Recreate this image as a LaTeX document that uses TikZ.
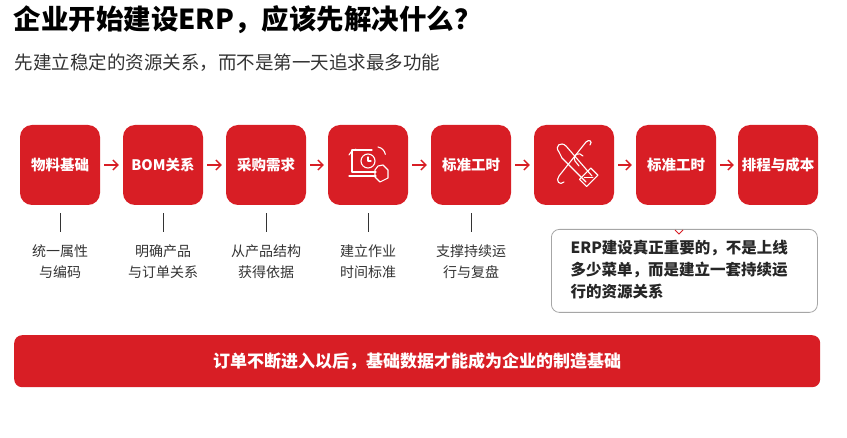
\documentclass[tikz,border=0pt]{standalone}
\usepackage{fontspec}
\setmainfont{Noto Sans CJK SC}
\usetikzlibrary{arrows.meta}
\definecolor{rd}{HTML}{D81E25}
\definecolor{tx}{HTML}{333333}
\begin{document}
\begin{tikzpicture}[x=1pt,y=-1pt,
  box/.style={fill=rd,rounded corners=12pt,minimum width=80pt,minimum height=80pt,text=white,font=\fontsize{14.5}{17}\selectfont\bfseries,inner sep=0pt},
  arr/.style={draw=rd,line width=1.4pt,-{Straight Barb[length=5pt,width=10pt]},shorten <=4pt,shorten >=4pt},
  tick/.style={draw=tx,line width=0.8pt},
  lab/.style={font=\fontsize{14}{21}\selectfont,text=tx,align=center},
  ic/.style={draw=white,line width=1.1pt,line cap=round,line join=round}]
\useasboundingbox (0,0) rectangle (847,438);
\node[anchor=west,font=\fontsize{27.5}{32}\selectfont\bfseries] (t) at (10,20) {企业开始建设ERP，应该先解决什么？};
\node[anchor=west,font=\fontsize{18.5}{22}\selectfont,text=tx] (st) at (11,63) {先建立稳定的资源关系，而不是第一天追求最多功能};
\node[box] (b1) at (60,165) {物料基础};
\node[box] (b2) at (163,165) {BOM关系};
\node[box] (b3) at (266,165) {采购需求};
\node[box] (b4) at (368,165) {};
\node[box] (b5) at (471,165) {标准工时};
\node[box] (b6) at (574,165) {};
\node[box] (b7) at (676,165) {标准工时};
\node[box] (b8) at (778,165) {排程与成本};
\foreach \a/\b in {b1/b2,b2/b3,b3/b4,b4/b5,b5/b6,b6/b7,b7/b8} \draw[arr] (\a) -- (\b);
% icon 4: laptop with clock and hand
\draw[ic] (352,150) -- (352,172) -- (376,172);
\draw[ic] (349,176) -- (376,176);
\draw[ic] (368,161) circle (7pt);
\draw[ic] (368,157) -- (368,161) -- (371,161);
\draw[ic] (375,170) -- (378,166) -- (383,165) -- (388,170) -- (388,178) -- (380,182) -- (375,177) -- cycle;
\draw[ic] (349,155) arc (200:260:9);
\draw[ic] (378,147) arc (-80:-10:9);
\draw[ic] (352,150) -- (372,150);
% icon 6: broken chain and wrench
\draw[ic] (559,152) .. controls (554,146) and (561,141) .. (566,146) -- (592,176);
\draw[ic] (562,158) -- (586,182);
\draw[ic] (559,152) -- (562,158);
\draw[ic] (590,145) .. controls (593,141) and (589,139) .. (586,142) -- (559,176) .. controls (555,181) and (560,186) .. (564,182);
\draw[ic] (583,156) .. controls (579,151) and (572,155) .. (575,161) -- (579,166);
\draw[ic,rotate around={45:(588,178)}] (581,173) rectangle (597,183);
\draw[ic,rotate around={45:(588,178)}] (586,175) -- (592,181);
% ticks and labels
\foreach \b/\t in {b1/{统一属性\\与编码},b2/{明确产品\\与订单关系},b3/{从产品结构\\获得依据},b4/{建立作业\\时间标准},b5/{支撑持续运\\行与复盘}}{
  \coordinate (\b t1) at ([yshift=-8pt]\b.south);
  \coordinate (\b t2) at ([yshift=-27pt]\b.south);
  \draw[tick] (\b t1) -- (\b t2);
  \node[lab,anchor=north] (\b l) at ([yshift=-36pt]\b.south) {\t};
}
% callout
\node[draw=gray!70,line width=0.8pt,rounded corners=8pt,fill=white,minimum width=266pt,minimum height=83pt,anchor=north west,inner sep=0pt] (co) at (551,229) {};
\node[anchor=west,align=left,font=\fontsize{15.5}{22}\selectfont\bfseries,text=black!85] (cot) at (567,270) {ERP建设真正重要的，不是上线\\多少菜单，而是建立一套持续运\\行的资源关系};
\coordinate (n) at (679,234);
\draw[rd,line width=0.8pt] ([xshift=-4pt,yshift=4pt]n) -- (n) -- ([xshift=4pt,yshift=4pt]n);
% banner
\node[fill=rd,rounded corners=8pt,minimum width=806pt,minimum height=52pt,anchor=north west,inner sep=0pt] (bn) at (14,335) {};
\node[text=white,font=\fontsize{17}{20}\selectfont\bfseries] (bnt) at (bn.center) {订单不断进入以后，基础数据才能成为企业的制造基础};
\end{tikzpicture}
\end{document}
